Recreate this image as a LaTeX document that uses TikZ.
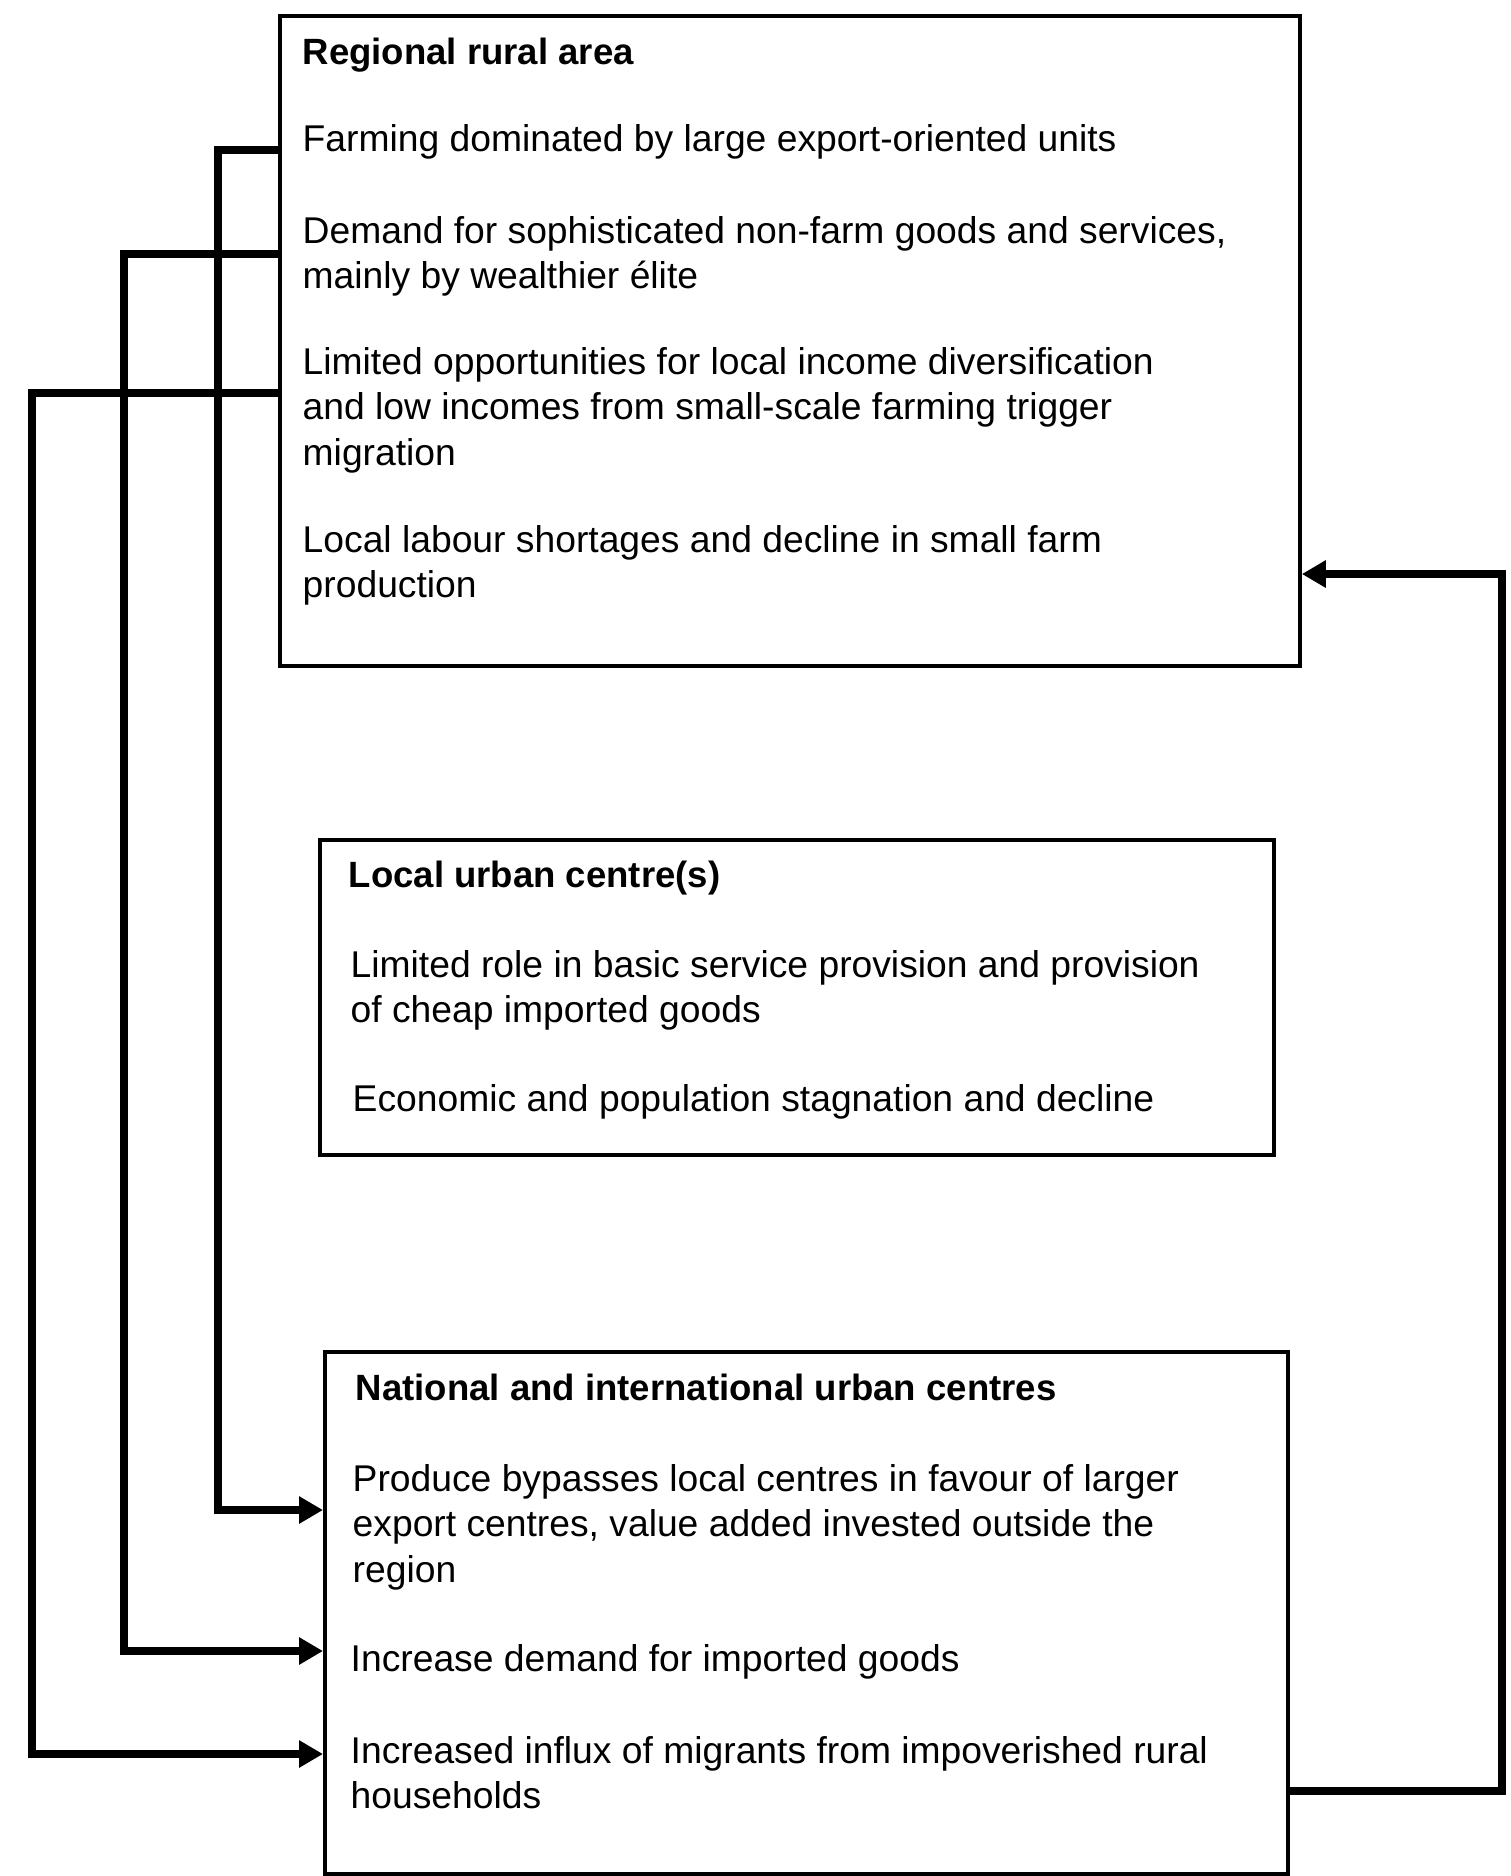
\documentclass[tikz,border=0pt]{standalone}
\usepackage{fontspec}
\setmainfont{Liberation Sans}
\usepackage{tikz}
\usetikzlibrary{arrows.meta}
\tikzset{panel/.style={draw, line width=1.1pt, anchor=north west, inner sep=0pt},
  itemtext/.style={anchor=base west, inner sep=0pt, align=left, font=\fontsize{10.6}{12.9}\selectfont},
  headtext/.style={itemtext, font=\fontsize{10.4}{12.9}\selectfont\bfseries},
  link/.style={line width=2.2pt, -{Triangle[length=2.4mm, width=2.6mm]}}}

\begin{document}
\begin{tikzpicture}[x=0.1mm, y=-0.1mm]
\useasboundingbox (0,0) rectangle (1510,1876);
% the three boxes
\node[panel, minimum width=102mm, minimum height=65mm] (rural) at (278,14) {};
\node[panel, minimum width=95.4mm, minimum height=31.5mm] (localc) at (318,838) {};
\node[panel, minimum width=96.3mm, minimum height=52.2mm] (national) at (323,1350) {};
% regional rural area (multi-line texts sit on their last line)
\node[headtext] (ruralhead) at (302,64) {Regional rural area};
\node[itemtext] (farming) at (302,151) {Farming dominated by large export-oriented units};
\node[itemtext] (demand) at (302,288.5) {Demand for sophisticated non-farm goods and services,\\mainly by wealthier élite};
\node[itemtext] (limited) at (302,465) {Limited opportunities for local income diversification\\and low incomes from small-scale farming trigger\\migration};
\node[itemtext] (labour) at (302,597.5) {Local labour shortages and decline in small farm\\production};
% local urban centre(s)
\node[headtext] (localhead) at (348,887) {Local urban centre(s)};
\node[itemtext] (role) at (350,1022.5) {Limited role in basic service provision and provision\\of cheap imported goods};
\node[itemtext] (stagnation) at (352,1111) {Economic and population stagnation and decline};
% national and international urban centres
\node[headtext] (nationalhead) at (355,1400) {National and international urban centres};
\node[itemtext] (produce) at (352,1582) {Produce bypasses local centres in favour of larger\\export centres, value added invested outside the\\region};
\node[itemtext] (imports) at (350,1671) {Increase demand for imported goods};
\node[itemtext] (influx) at (350,1808.5) {Increased influx of migrants from impoverished rural\\households};
% lanes and levels of the links
\coordinate (laneA) at (218,0);
\coordinate (laneB) at (124,0);
\coordinate (laneC) at (32,0);
\coordinate (laneD) at (1502,0);
\coordinate (outA) at (0,150);
\coordinate (outB) at (0,254);
\coordinate (outC) at (0,393);
\coordinate (outD) at (0,1791);
\coordinate (inA) at (0,1510);
\coordinate (inB) at (0,1651);
\coordinate (inC) at (0,1754);
\coordinate (inD) at (0,574);
% links
\draw[link] (rural.west |- outA) -| (laneA |- inA) -- (national.west |- inA);
\draw[link] (rural.west |- outB) -| (laneB |- inB) -- (national.west |- inB);
\draw[link] (rural.west |- outC) -| (laneC |- inC) -- (national.west |- inC);
\draw[link] (national.east |- outD) -| (laneD |- inD) -- (rural.east |- inD);
\end{tikzpicture}
\end{document}
